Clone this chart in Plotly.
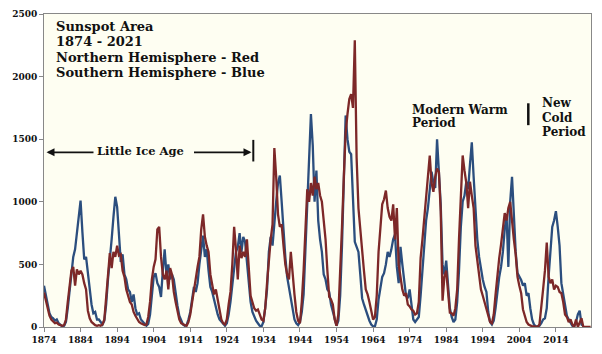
import plotly.graph_objects as go

# ---- data (half-year samples) ----
start_year = 1874.0
step = 0.5

# Southern hemisphere (blue)
south = [
    330, 250, 170, 110, 80, 70, 50, 60, 30, 20,
    5, 10, 40, 150, 290, 380, 560, 620, 770, 880,
    1010, 760, 540, 560, 420, 300, 180, 110, 120, 60,
    60, 40, 20, 50, 180, 380, 520, 700, 880, 1040,
    960, 700, 520, 580, 420, 380, 300, 280, 200, 260,
    150, 100, 110, 60, 40, 20, 10, 25, 100, 250,
    400, 430, 350, 320, 240, 450, 620, 420, 500, 380,
    420, 380, 260, 170, 90, 50, 20, 10, 15, 60,
    120, 220, 320, 280, 350, 500, 620, 730, 560, 620,
    450, 320, 280, 220, 150, 100, 60, 40, 20, 10,
    30, 100, 200, 350, 500, 600, 640, 750, 600, 720,
    680, 500, 350, 200, 120, 80, 50, 30, 10, 5,
    40, 150, 300, 600, 720, 650, 850, 1000, 1150, 1210,
    1000, 750, 560, 400, 320, 240, 160, 60, 30, 15,
    40, 120, 260, 650, 1000, 1400, 1700, 1450, 1000, 1250,
    850, 700, 600, 420, 380, 300, 280, 180, 120, 70,
    10, 50, 250, 650, 1200, 1690, 1500, 1400, 1380, 1000,
    680, 640, 600, 420, 230, 180, 130, 80, 50, 20,
    5, 5, 60, 220, 330, 400, 430, 500, 600, 560,
    620, 700, 740, 480, 350, 640, 500, 350, 250, 230,
    300, 180, 60, 40, 60, 80, 250, 450, 600, 850,
    950, 1100, 1240, 1150, 1110, 1500, 1200, 980, 500, 420,
    530, 300, 150, 80, 40, 60, 200, 450, 800, 1000,
    1050, 1160, 1100, 1300, 1475, 1200, 900, 700, 560, 450,
    380, 320, 280, 120, 40, 20, 50, 150, 280, 400,
    480, 600, 780, 900, 480, 1000, 1200, 900, 600, 430,
    400, 375, 330, 350, 250, 270, 150, 60, 20, 5,
    5, 10, 30, 60, 70, 150, 400, 600, 800, 850,
    925, 800, 650, 350, 250, 150, 90, 60, 30, 10,
    5, 40, 100, 130, 20, 10,
]

# Northern hemisphere (red)
north = [
    275, 220, 150, 90, 60, 40, 30, 35, 20, 15,
    10, 15, 60, 200, 320, 450, 480, 330, 460, 420,
    450, 420, 350, 300, 130, 70, 40, 25, 15, 10,
    15, 10, 20, 60, 250, 420, 590, 470, 600, 560,
    650, 570, 580, 450, 400, 300, 250, 200, 180, 120,
    90, 60, 40, 30, 20, 15, 20, 80, 200, 380,
    480, 540, 780, 800, 560, 420, 380, 450, 300, 470,
    420, 280, 200, 130, 60, 30, 20, 15, 10, 40,
    100, 200, 300, 380, 480, 560, 780, 900, 720, 650,
    600, 420, 350, 260, 300, 200, 140, 60, 30, 20,
    60, 180, 280, 500, 800, 620, 380, 650, 550, 600,
    560, 700, 450, 250, 200, 150, 130, 140, 100, 60,
    50, 150, 350, 550, 700, 820, 1430, 1200, 900, 800,
    820, 650, 500, 420, 380, 600, 400, 260, 120, 50,
    30, 200, 450, 750, 1100, 1000, 1150, 1050, 1200, 1100,
    1150, 1050, 1000, 850, 700, 450, 240, 220, 180, 60,
    10, 100, 400, 800, 1200, 1550, 1700, 1820, 1860, 1750,
    2290, 1350, 950, 760, 600, 450, 300, 260, 200, 120,
    60, 80, 250, 600, 820, 980, 1020, 1090, 950, 880,
    850, 980, 700, 950, 500, 380, 300, 250, 270, 180,
    165, 140, 130, 100, 110, 200, 550, 700, 870, 1050,
    1200, 1370, 1150, 1080, 1200, 1265, 1240, 925, 210, 400,
    450, 300, 115, 110, 90, 150, 300, 700, 1100, 1370,
    1250, 1150, 950, 1160, 1050, 950, 650, 520, 380, 300,
    250, 200, 140, 80, 40, 30, 100, 260, 420, 550,
    660, 800, 910, 850, 950, 1000, 820, 700, 580, 400,
    330, 270, 140, 80, 40, 20, 10, 5, 5, 5,
    0, 20, 140, 300, 450, 675, 400, 350, 380, 300,
    330, 320, 280, 270, 200, 100, 80, 40, 60, 20,
    0, 60, 0, 30, 70, 0, 0, 0, 0, 0,
]

x_tick_vals = [1874, 1884, 1894, 1904, 1914, 1924, 1934, 1944, 1954, 1964,
               1974, 1984, 1994, 2004, 2014]
y_tick_vals = [0, 500, 1000, 1500, 2000, 2500]

title_lines = ["Sunspot Area", "1874 - 2021", "Northern Hemisphere - Red",
               "Southern Hemisphere - Blue"]
lia_label = "Little Ice Age"
mwp_lines = ["Modern Warm", "Period"]
ncp_lines = ["New", "Cold", "Period"]

years_s = [start_year + i * step for i in range(len(south))]
years_n = [start_year + i * step for i in range(len(north))]

# ---- styling / geometry ----
W, H = 602, 354
L, R, T, B = 44, 11, 9, 26
X0, X1 = 1874.0, 2023.6
Y0, Y1 = 0, 2500
PW, PH = W - L - R, H - T - B

def dx(px):
    return X0 + (px - L) / PW * (X1 - X0)

def dy(py):
    return Y0 + (T + PH - py) / PH * (Y1 - Y0)

BLUE = "#2B4E7E"
RED = "#7D2828"
SERIF = "DejaVu Serif"

fig = go.Figure()
fig.add_trace(go.Scatter(x=years_s, y=south, mode="lines",
                         line=dict(color=BLUE, width=2.3), name="Southern"))
fig.add_trace(go.Scatter(x=years_n, y=north, mode="lines",
                         line=dict(color=RED, width=2.3), name="Northern"))

ann = []
# title lines
for i, t in enumerate(title_lines):
    ann.append(dict(x=dx(54), y=dy(21.5 + i * 15.8), xref="x", yref="y",
                    text=t, showarrow=False, xanchor="left", yanchor="middle",
                    font=dict(family=SERIF, size=13, color="#111", weight="bold")))
# Little Ice Age
ann.append(dict(x=dx(140.5), y=dy(148.5), xref="x", yref="y", text=lia_label,
                showarrow=False, xanchor="center", yanchor="middle",
                font=dict(family=SERIF, size=11.5, color="#111", weight="bold")))
ann.append(dict(x=dx(46.5), y=dy(150), ax=dx(95), ay=dy(150), xref="x", yref="y",
                axref="x", ayref="y", text="", showarrow=True, arrowhead=2,
                arrowsize=1, arrowwidth=1.6, arrowcolor="#111"))
ann.append(dict(x=dx(251.5), y=dy(150), ax=dx(192.5), ay=dy(150), xref="x", yref="y",
                axref="x", ayref="y", text="", showarrow=True, arrowhead=2,
                arrowsize=1, arrowwidth=1.6, arrowcolor="#111"))
# Modern Warm Period
for i, t in enumerate(mwp_lines):
    ann.append(dict(x=dx(410), y=dy(106.5 + i * 13.5), xref="x", yref="y", text=t,
                    showarrow=False, xanchor="left", yanchor="middle",
                    font=dict(family=SERIF, size=12, color="#111", weight="bold")))
# New Cold Period
for i, t in enumerate(ncp_lines):
    ann.append(dict(x=dx(540), y=dy(100 + i * 14.5), xref="x", yref="y", text=t,
                    showarrow=False, xanchor="left", yanchor="middle",
                    font=dict(family=SERIF, size=12, color="#111", weight="bold")))

shapes = [
    dict(type="line", xref="x", yref="y", x0=dx(253.3), x1=dx(253.3),
         y0=dy(137.3), y1=dy(159.3), line=dict(color="#111", width=2)),
    dict(type="line", xref="x", yref="y", x0=dx(528.3), x1=dx(528.3),
         y0=dy(100), y1=dy(122.3), line=dict(color="#111", width=2.5)),
]

tickfont = dict(family=SERIF, size=9, color="#111", weight="bold")
fig.update_layout(
    width=W, height=H, autosize=False,
    margin=dict(l=L, r=R, t=T, b=B, pad=0),
    paper_bgcolor="white", plot_bgcolor="#FEFEF2",
    showlegend=False,
    annotations=ann, shapes=shapes,
    xaxis=dict(range=[X0, X1], tickvals=x_tick_vals,
               ticktext=[str(v) for v in x_tick_vals],
               showgrid=False, zeroline=False, showline=True, mirror=True,
               linecolor="#888888", linewidth=1, ticks="outside", ticklen=4,
               tickcolor="#888888", tickfont=tickfont),
    yaxis=dict(range=[Y0, Y1], tickvals=y_tick_vals,
               showgrid=False, zeroline=False, showline=True, mirror=True,
               linecolor="#888888", linewidth=1, ticks="outside", ticklen=4,
               tickcolor="#888888", tickfont=tickfont),
)

fig.write_html("out.html")
